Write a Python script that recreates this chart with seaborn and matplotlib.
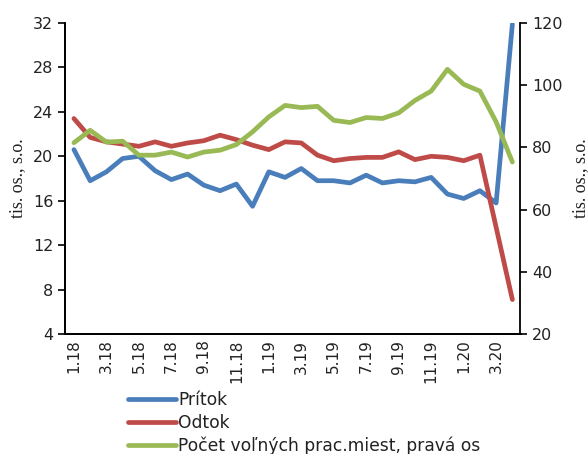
import numpy as np
import pandas as pd
import matplotlib
matplotlib.use("Agg")
import matplotlib.pyplot as plt
import seaborn as sns

months = ["1.18", "2.18", "3.18", "4.18", "5.18", "6.18", "7.18", "8.18", "9.18", "10.18",
          "11.18", "12.18", "1.19", "2.19", "3.19", "4.19", "5.19", "6.19", "7.19", "8.19",
          "9.19", "10.19", "11.19", "12.19", "1.20", "2.20", "3.20", "4.20"]
pritok = [20.6, 17.8, 18.6, 19.8, 20.0, 18.7, 17.9, 18.4, 17.4, 16.9,
          17.5, 15.5, 18.6, 18.1, 18.9, 17.8, 17.8, 17.6, 18.3, 17.6,
          17.8, 17.7, 18.1, 16.6, 16.2, 16.9, 15.8, 31.9]
odtok = [23.4, 21.7, 21.3, 21.1, 20.9, 21.3, 20.9, 21.2, 21.4, 21.9,
         21.5, 21.0, 20.6, 21.3, 21.2, 20.1, 19.6, 19.8, 19.9, 19.9,
         20.4, 19.7, 20.0, 19.9, 19.6, 20.1, 13.6, 7.1]
pocet = [81.5, 85.5, 81.7, 82.0, 77.5, 77.5, 78.5, 76.9, 78.5, 79.1,
         80.9, 85.0, 89.8, 93.5, 92.8, 93.2, 88.7, 88.0, 89.6, 89.3,
         91.1, 95.1, 98.1, 105.1, 100.3, 98.1, 88.2, 75.3]
series_names = ["Prítok", "Odtok", "Počet voľných prac.miest, pravá os"]
left_ticks = [4, 8, 12, 16, 20, 24, 28, 32]
right_ticks = [20, 40, 60, 80, 100, 120]
ylabel = "tis. os., s.o."

df = pd.DataFrame({"x": np.arange(len(months)), "pritok": pritok,
                   "odtok": odtok, "pocet": pocet})

sns.set_style("white")
plt.rcParams["font.family"] = ["DejaVu Sans"]

fig = plt.figure(figsize=(5.88, 4.54), dpi=100)
ax = fig.add_axes([65 / 588, 1 - 334 / 454, (520.5 - 65) / 588, (334 - 23) / 454])
ax2 = ax.twinx()

blue, red, green = "#4A7EBB", "#BE4B48", "#98B954"
lw = 3.4
sns.lineplot(data=df, x="x", y="pritok", ax=ax, color=blue, linewidth=lw, label=series_names[0], legend=False)
sns.lineplot(data=df, x="x", y="odtok", ax=ax, color=red, linewidth=lw, label=series_names[1], legend=False)
sns.lineplot(data=df, x="x", y="pocet", ax=ax2, color=green, linewidth=lw, label=series_names[2], legend=False)

n = len(months)
ax.set_xlim(-0.55, n - 0.54)
ax.set_ylim(4, 32)
ax2.set_ylim(20, 120)
ax.set_yticks(left_ticks)
ax2.set_yticks(right_ticks)

ax.set_xticks(np.arange(-0.5, n, 2))
ax.set_xticklabels([])
ax.set_xticks(np.arange(0, n, 2), minor=True)
ax.set_xticklabels(months[::2], minor=True, rotation=90)
ax.tick_params(axis="x", which="major", length=5, width=1.2, direction="out", color="black")
ax.tick_params(axis="x", which="minor", length=0, pad=4, labelsize=11, labelcolor="#222222")
ax.tick_params(axis="y", length=5, width=1.2, direction="out", color="black", labelsize=11.5, labelcolor="#222222", left=True)
ax2.tick_params(axis="y", length=5, width=1.2, direction="out", color="black", labelsize=11.5, labelcolor="#222222", right=True)

for a in (ax, ax2):
    a.grid(False)
    a.set_xlabel("")
    a.spines["top"].set_visible(False)
    for s in ("left", "right", "bottom"):
        a.spines[s].set_color("black")
        a.spines[s].set_linewidth(1.3)
ax.spines["right"].set_visible(False)

ax.set_ylabel(ylabel, family=["Liberation Serif", "DejaVu Serif"], fontsize=13, labelpad=5, color="#222222")
ax2.set_ylabel(ylabel, family=["Liberation Serif", "DejaVu Serif"], fontsize=13, labelpad=7, color="#222222", rotation=90)

handles = ax.get_lines()[:2] + ax2.get_lines()[:1]
fig.legend(handles, series_names, loc="upper left", bbox_to_anchor=(128 / 588, 1 - 391 / 454),
           frameon=False, fontsize=12.3, handlelength=2.8, handletextpad=0.15,
           labelspacing=0.27, borderpad=0, borderaxespad=0, labelcolor="#222222")

fig.savefig("out.png", dpi=100)
